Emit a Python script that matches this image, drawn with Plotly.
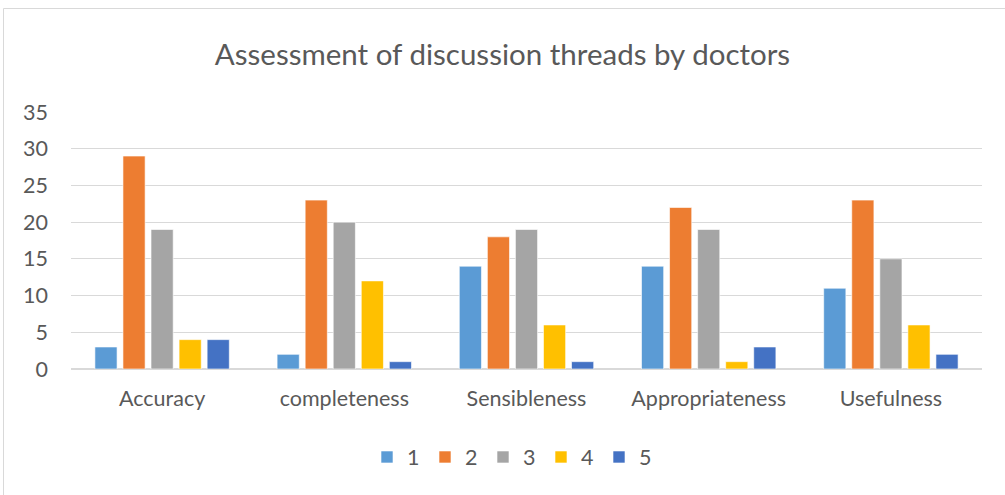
import plotly.graph_objects as go

# Criteria assessed and the count of ratings per score (1-5)
criteria = ["Accuracy", "completeness", "Sensibleness", "Appropriateness", "Usefulness"]
score_1 = [3, 2, 14, 14, 11]
score_2 = [29, 23, 18, 22, 23]
score_3 = [19, 20, 19, 19, 15]
score_4 = [4, 12, 6, 1, 6]
score_5 = [4, 1, 1, 3, 2]
series_names = ["1", "2", "3", "4", "5"]
y_ticks = [0, 5, 10, 15, 20, 25, 30, 35]

colors = ["#5B9BD5", "#ED7D31", "#A5A5A5", "#FFC000", "#4472C4"]
FONT = "Lato, 'Open Sans', sans-serif"

W, H = 1005, 495
ML, MR, MT, MB = 71, 23, 112, 126
PW, PH = W - ML - MR, H - MT - MB

fig = go.Figure()
for name, vals, col in zip(series_names, [score_1, score_2, score_3, score_4, score_5], colors):
    fig.add_trace(go.Bar(
        x=criteria, y=vals, name=name,
        marker=dict(color=col, line=dict(color="rgba(255,255,255,0.6)", width=1)),
    ))

def px_x(p):
    return (p - ML) / PW

def px_y(p):
    return (H - MB - p) / PH

# outer chart frame
fig.add_shape(type="rect", xref="paper", yref="paper",
              x0=px_x(3.5), x1=px_x(1012), y0=px_y(8.5), y1=px_y(502),
              line=dict(color="#D9D9D9", width=1), layer="below")

fig.update_layout(
    width=W, height=H,
    margin=dict(l=ML, r=MR, t=MT, b=MB),
    paper_bgcolor="white", plot_bgcolor="white",
    barmode="group", bargap=0.23, bargroupgap=0.21,
    title=dict(text="Assessment of discussion threads by doctors",
               x=0.5, xanchor="center", xref="container",
               y=1 - 55 / H, yanchor="middle",
               font=dict(family=FONT, size=29.5, color="#595959")),
    font=dict(family=FONT, color="#595959"),
    xaxis=dict(showgrid=False, showline=False, ticks="",
               tickfont=dict(size=21.5, color="#595959"),
               ticklabelstandoff=14),
    yaxis=dict(range=[0, 35], tickvals=y_ticks, showline=False,
               gridcolor="#D9D9D9", gridwidth=1,
               zeroline=True, zerolinecolor="#D9D9D9", zerolinewidth=2,
               tickfont=dict(size=21.5, color="#595959"),
               ticks="", ticklabelstandoff=22),
    legend=dict(orientation="h", x=px_x(512), xanchor="center",
                y=px_y(457), yanchor="middle",
                font=dict(size=21.5, color="#595959"),
                entrywidth=13, entrywidthmode="pixels",
                itemwidth=30),
    showlegend=True,
)

fig.write_html("out.html")
